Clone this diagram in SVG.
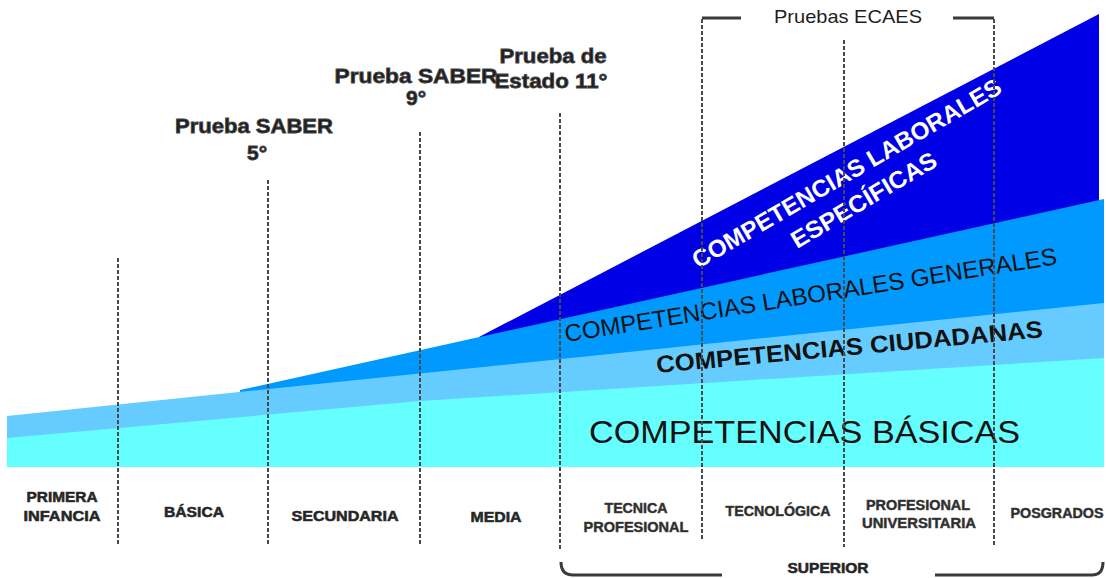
<svg xmlns="http://www.w3.org/2000/svg" width="1106" height="578" viewBox="0 0 1106 578">
<style>
.vl{fill:none;stroke:#4a4a4a;stroke-width:2;stroke-dasharray:4 2}
.br{fill:none;stroke:#3a3a3a;stroke-width:3}
.hdr{font-family:"Liberation Sans",Arial,sans-serif;font-weight:bold;font-size:21px;fill:#1e1e1e;stroke:#444;stroke-width:0.8;text-anchor:middle}
.lvl{font-family:"Liberation Sans",Arial,sans-serif;font-weight:bold;font-size:15px;fill:#222;stroke:#333;stroke-width:0.6;text-anchor:middle}
.lvs{font-family:"Liberation Sans",Arial,sans-serif;font-weight:bold;font-size:14px;fill:#2a2a2a;stroke:#444;stroke-width:0.5;text-anchor:middle}
.big{font-family:"Liberation Sans",Arial,sans-serif;fill:#111}
</style>
<rect width="1106" height="578" fill="#ffffff"/>
<g id="bands">
  <polygon id="band-especificas" fill="#0000E6" points="479,337 1099,14 1099,467 479,467"/>
  <polygon id="band-generales" fill="#0099FF" points="240,390 1104,199 1104,467 240,467"/>
  <polygon id="band-ciudadanas" fill="#66CCFF" points="7,416 1104,303 1104,467 7,467"/>
  <polygon id="band-basicas" fill="#66FFFF" points="7,438 420,401 1104,358 1104,467 7,467"/>
</g>
<g id="band-labels">
  <text class="big" x="589" y="443" font-size="31" textLength="431" lengthAdjust="spacingAndGlyphs">COMPETENCIAS BÁSICAS</text>
  <text class="big" transform="translate(657,373) rotate(-5.3)" font-size="24" font-weight="bold" textLength="388" lengthAdjust="spacingAndGlyphs">COMPETENCIAS CIUDADANAS</text>
  <text class="big" transform="translate(566,342) rotate(-9)" font-size="24" textLength="498" lengthAdjust="spacingAndGlyphs">COMPETENCIAS LABORALES GENERALES</text>
  <text class="big" transform="translate(698,269) rotate(-30.1)" font-size="24" font-weight="bold" style="fill:#ffffff" textLength="353" lengthAdjust="spacingAndGlyphs">COMPETENCIAS LABORALES</text>
  <text class="big" transform="translate(797,249) rotate(-30.6)" font-size="24" font-weight="bold" style="fill:#ffffff" textLength="165" lengthAdjust="spacingAndGlyphs">ESPECÍFICAS</text>
</g>
<g id="connectors">
  <line class="vl" x1="118" y1="258" x2="118" y2="545"/>
  <line class="vl" x1="268" y1="180" x2="268" y2="545"/>
  <line class="vl" x1="420" y1="132" x2="420" y2="545"/>
  <line class="vl" x1="560" y1="113" x2="560" y2="550"/>
  <line class="vl" x1="702" y1="19" x2="702" y2="540"/>
  <line class="vl" x1="844" y1="40" x2="844" y2="547"/>
  <line class="vl" x1="994" y1="19" x2="994" y2="545"/>
  <path class="br" d="M741,18 H702"/>
  <path class="br" d="M953,18 H994"/>
  <path class="br" d="M561,562 Q561,575 573,575 H722"/>
  <path class="br" d="M935,575 H1092 Q1103,575 1103,562"/>
</g>
<g id="tests">
  <g id="saber5"><text class="hdr" x="254" y="133" textLength="158" lengthAdjust="spacingAndGlyphs">Prueba SABER</text><text class="hdr" x="257" y="160">5°</text></g>
  <g id="saber9"><text class="hdr" x="416" y="83" textLength="163" lengthAdjust="spacingAndGlyphs">Prueba SABER</text><text class="hdr" x="416" y="105">9°</text></g>
  <g id="estado11"><text class="hdr" x="553" y="63" textLength="107" lengthAdjust="spacingAndGlyphs">Prueba de</text><text class="hdr" x="551" y="88" textLength="113" lengthAdjust="spacingAndGlyphs">Estado 11°</text></g>
  <g id="ecaes"><text x="848" y="23" font-family="Liberation Sans, Arial, sans-serif" font-size="19" fill="#1e1e1e" text-anchor="middle" textLength="148" lengthAdjust="spacingAndGlyphs">Pruebas ECAES</text></g>
</g>
<g id="levels">
  <g id="primera"><text class="lvl" x="62" y="502" textLength="71" lengthAdjust="spacingAndGlyphs">PRIMERA</text><text class="lvl" x="62" y="521" textLength="77" lengthAdjust="spacingAndGlyphs">INFANCIA</text></g>
  <g id="basica"><text class="lvl" x="194" y="517" textLength="60" lengthAdjust="spacingAndGlyphs">BÁSICA</text></g>
  <g id="secundaria"><text class="lvl" x="345" y="521" textLength="107" lengthAdjust="spacingAndGlyphs">SECUNDARIA</text></g>
  <g id="media"><text class="lvl" x="496" y="522" textLength="51" lengthAdjust="spacingAndGlyphs">MEDIA</text></g>
  <g id="tecnica"><text class="lvs" x="636" y="513" textLength="63" lengthAdjust="spacingAndGlyphs">TECNICA</text><text class="lvs" x="636" y="532" textLength="105" lengthAdjust="spacingAndGlyphs">PROFESIONAL</text></g>
  <g id="tecnologica"><text class="lvs" x="778" y="516" textLength="105" lengthAdjust="spacingAndGlyphs">TECNOLÓGICA</text></g>
  <g id="universitaria"><text class="lvs" x="918" y="510" textLength="104" lengthAdjust="spacingAndGlyphs">PROFESIONAL</text><text class="lvs" x="919" y="528" textLength="114" lengthAdjust="spacingAndGlyphs">UNIVERSITARIA</text></g>
  <g id="posgrados"><text class="lvs" x="1057" y="518" textLength="93" lengthAdjust="spacingAndGlyphs">POSGRADOS</text></g>
  <g id="superior"><text class="lvl" x="828" y="573" textLength="81" lengthAdjust="spacingAndGlyphs">SUPERIOR</text></g>
</g>
</svg>
